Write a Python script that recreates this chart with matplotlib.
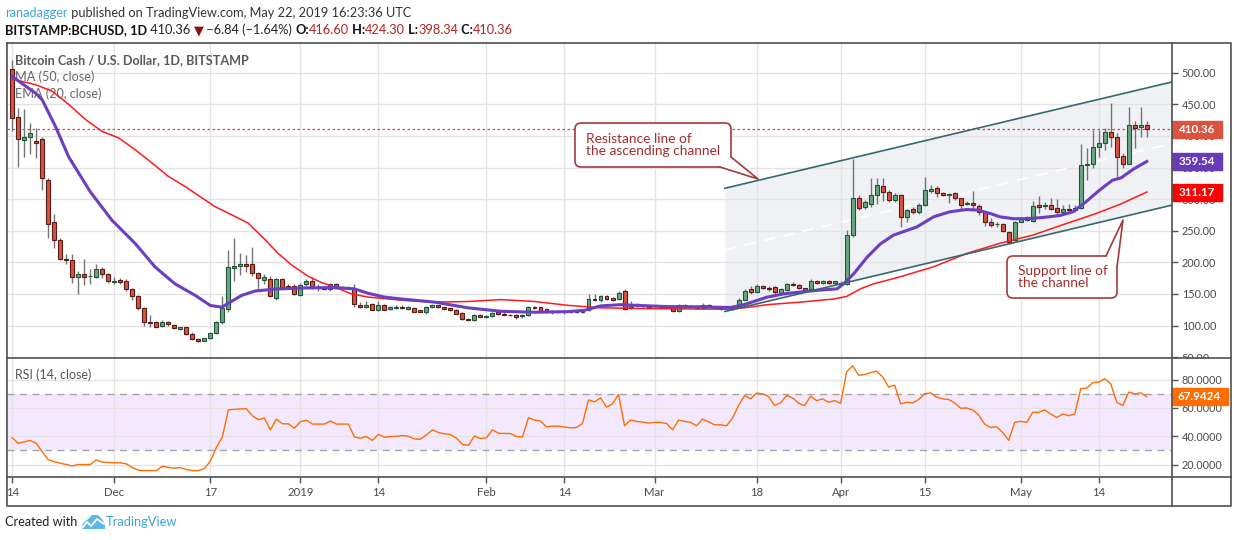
import matplotlib
matplotlib.use("Agg")
import matplotlib.pyplot as plt
import matplotlib.transforms as mtransforms
from matplotlib.patches import Rectangle, FancyBboxPatch, Polygon
from matplotlib.lines import Line2D

# daily candles, day 0 = 14 Nov 2018 ... day 189 = 22 May 2019
opens = [506, 430, 393, 398, 392, 395, 331, 264, 235, 206,
         204, 177, 181, 178, 177, 190, 181, 169, 172, 171,
         158, 146, 128, 106, 105, 99, 105, 101, 95, 97,
         87, 79, 76, 80, 88, 105, 126, 191, 194, 197,
         197, 183, 172, 174, 143, 174, 163, 162, 148, 165,
         171, 160, 160, 158, 166, 160, 160, 160, 133, 129,
         134, 125, 133, 126, 127, 130, 126, 128, 124, 122,
         129, 132, 129, 127, 124, 120, 111, 108, 117, 114,
         115, 121, 118, 117, 117, 115, 116, 129, 129, 126,
         122, 122, 122, 122, 121, 121, 124, 142, 140, 147,
         143, 142, 154, 129, 134, 132, 132, 131, 131, 130,
         129, 123, 133, 131, 131, 127, 133, 130, 128, 128,
         127, 130, 141, 157, 153, 162, 160, 161, 152, 156,
         166, 164, 159, 158, 170, 168, 171, 168, 168, 166,
         243, 301, 288, 293, 306, 320, 312, 298, 306, 271,
         284, 279, 291, 313, 317, 310, 307, 309, 301, 292,
         294, 289, 280, 263, 260, 260, 248, 235, 264, 267,
         265, 290, 289, 291, 286, 279, 285, 282, 286, 354,
         356, 383, 389, 406, 399, 368, 356, 418, 414, 416.6]
highs = [520, 444, 442, 420, 412, 398, 333, 277, 238, 213,
         213, 187, 206, 190, 198, 193, 183, 176, 175, 173,
         160, 148, 130, 116, 107, 108, 107, 103, 98, 98,
         89, 81, 81, 90, 107, 147, 220, 238, 215, 212,
         225, 185, 182, 178, 175, 175, 165, 166, 167, 174,
         177, 165, 163, 168, 168, 162, 163, 165, 137, 138,
         136, 138, 134, 131, 132, 132, 131, 129, 125, 131,
         134, 133, 130, 128, 126, 121, 112, 119, 119, 116,
         122, 122, 121, 118, 118, 118, 131, 131, 130, 127,
         124, 124, 123, 123, 125, 126, 150, 150, 149, 149,
         145, 155, 158, 138, 135, 134, 133, 133, 133, 131,
         130, 134, 134, 132, 132, 135, 134, 131, 129, 129,
         133, 143, 157, 162, 166, 164, 162, 162, 159, 168,
         169, 165, 160, 174, 172, 172, 172, 171, 170, 251,
         363, 306, 298, 333, 333, 333, 314, 309, 308, 284,
         287, 294, 335, 322, 320, 312, 310, 311, 302, 297,
         313, 292, 281, 270, 264, 262, 249, 266, 272, 274,
         297, 305, 295, 301, 300, 290, 292, 290, 387, 381,
         409, 409, 412, 452, 405, 373, 445, 424, 446, 424.3]
lows = [407, 351, 367, 372, 365, 314, 238, 222, 203, 198,
        167, 150, 164, 165, 175, 175, 168, 165, 166, 155,
        140, 125, 100, 97, 96, 97, 100, 94, 93, 85,
        77, 74, 75, 79, 86, 103, 122, 171, 180, 185,
        178, 158, 165, 145, 140, 158, 158, 148, 147, 162,
        158, 155, 156, 155, 158, 157, 157, 130, 128, 127,
        124, 123, 124, 124, 126, 126, 124, 121, 121, 118,
        128, 128, 125, 123, 118, 109, 107, 107, 113, 112,
        114, 117, 116, 115, 111, 112, 115, 126, 121, 120,
        119, 120, 119, 120, 120, 120, 123, 138, 137, 140,
        139, 141, 124, 126, 130, 130, 129, 129, 128, 128,
        122, 122, 129, 129, 126, 126, 130, 127, 125, 126,
        125, 129, 140, 150, 152, 157, 155, 150, 151, 155,
        162, 158, 153, 156, 166, 166, 166, 166, 164, 164,
        240, 283, 284, 288, 293, 297, 296, 296, 256, 264,
        276, 276, 289, 309, 304, 305, 294, 298, 282, 290,
        284, 275, 257, 256, 256, 248, 229, 234, 263, 265,
        264, 278, 285, 282, 275, 277, 281, 280, 285, 331,
        350, 367, 378, 383, 335, 350, 355, 381, 398, 398.34]
closes = [428, 395, 398, 404, 388, 333, 261, 235, 206, 203,
          176, 181, 177, 178, 190, 181, 171, 171, 169, 157,
          146, 128, 105, 104, 98, 106, 103, 96, 97, 87,
          79, 76, 80, 88, 105, 128, 193, 194, 197, 194,
          183, 175, 176, 147, 174, 160, 160, 150, 164, 170,
          160, 161, 158, 166, 160, 160, 159, 134, 129, 133,
          125, 133, 125, 129, 130, 127, 130, 122, 122, 129,
          132, 129, 126, 125, 119, 110, 108, 117, 114, 115,
          120, 118, 117, 116, 113, 116, 129, 127, 122, 121,
          122, 122, 121, 121, 124, 124, 142, 140, 147, 142,
          141, 152, 126, 133, 132, 131, 130, 131, 129, 130,
          123, 133, 130, 130, 127, 133, 131, 128, 126, 128,
          131, 141, 155, 153, 162, 159, 157, 153, 157, 166,
          164, 160, 155, 171, 168, 170, 168, 170, 166, 243,
          301, 286, 296, 307, 322, 312, 298, 306, 272, 282,
          279, 291, 314, 316, 309, 307, 307, 301, 290, 294,
          290, 280, 264, 259, 260, 250, 232, 264, 268, 271,
          289, 288, 291, 284, 279, 285, 282, 286, 354, 356,
          383, 389, 406, 398, 366, 356, 418, 413, 416.6, 410.36]
days = list(range(len(closes)))

# moving averages (day, value)
purple_days = [0, 3.9, 5, 7.2, 9.4, 13, 16.6, 20.5, 23.8, 27.1, 30.5, 33, 34.9, 36.6, 38.2,
               40.4, 43.8, 48.2, 51.2, 53.7, 57, 59.3, 62, 64.8, 70.4, 75.9, 81.4, 87, 92.5, 95.3,
               98, 101.4, 103.6, 109, 114.7, 119.7, 121.9, 125.8, 128.5, 131.3, 134, 137.4, 138.5,
               140.2, 142.4, 144.6, 146.8, 150.7, 153.5, 156.2, 159, 160.9, 163, 164.5, 166.8, 169,
               171.7, 174.5, 176.7, 178.9, 181.1, 183.3, 184.7, 186.7, 189]
purple_vals = [494, 467.5, 457, 415, 367, 311.6, 266.7, 229.6, 192.6, 166, 147.6, 131.7, 129, 138.6, 147.6,
               154.5, 157.7, 159.3, 159.8, 160, 158, 151, 145, 142, 137, 128, 122.5, 121, 122, 124,
               131, 133, 132, 130, 129.5, 128.5, 133, 145, 150, 153, 155.6, 158, 166,
               182, 208, 229, 243, 256, 272, 280, 283.5, 282.5, 277, 272, 269, 269,
               271, 274, 280, 296, 314, 330, 333.5, 347, 359.54]
red_days = [0, 3.9, 6.6, 9.4, 12.2, 15, 17.7, 20.5, 23.3, 26, 28.8, 31.6, 33.8, 36.6, 39.3,
            42.1, 44.3, 46.5, 49.3, 51.5, 53.7, 56.5, 59.3, 64.8, 70.4, 75.9, 81.4, 87, 92.5, 98,
            103.6, 109, 114.7, 120, 122.8, 125.8, 131.3, 136.9, 139, 141.3, 143.5, 147.9, 153.5,
            159, 164.5, 170, 175.5, 180.5, 184.6, 189]
red_vals = [490, 481, 471, 450, 426, 407, 397, 378, 357, 336, 320, 302, 288, 275, 262,
            236, 214, 196, 178, 168, 161, 150, 145, 140, 137, 138, 141, 138, 132, 128,
            127, 126.5, 126, 126, 129, 133, 137, 142, 146, 158, 166, 177, 193,
            214, 230, 243, 261, 277, 292, 311.17]

rsi = [39, 35, 36, 37, 35, 29, 23.5, 22, 21, 20,
       19, 20, 20, 20, 23.3, 21.7, 21.5, 21.3, 21.2, 20.5,
       18, 16, 15.7, 15.7, 15.7, 18.8, 18, 17.4, 17.9, 16.5,
       15.7, 15.7, 17.1, 22.4, 32, 39.5, 58.6, 59, 59.3, 59.5,
       54.5, 51.7, 52.9, 44.5, 52.1, 48.8, 48.8, 45.7, 50.2, 51.4,
       48.6, 48.6, 48.6, 50.7, 48.6, 48.6, 48.6, 39.5, 38.6, 39.8,
       37.1, 41.4, 39.3, 39.7, 40, 40.5, 40, 38.1, 37.9, 41,
       44.5, 42.6, 41.8, 41.2, 38.6, 34.3, 33.6, 40.2, 38.3, 39,
       44.5, 42.1, 42, 41.9, 39.8, 39.5, 53.1, 51.4, 50.7, 46.7,
       47.1, 47.1, 46.5, 46, 46.2, 49, 65.7, 64.3, 67.1, 60.5,
       62.9, 69.5, 47.4, 51.4, 50.5, 50, 49.3, 49.8, 49.8, 49,
       44.5, 51.4, 50.5, 49.8, 47.4, 52.1, 50.2, 48.1, 48.1, 47.4,
       52.9, 61.7, 68.8, 66.4, 70.5, 70, 68.1, 61.7, 63.6, 68.8,
       67.1, 63.3, 61.7, 68.3, 65.2, 66.4, 64, 65.2, 63.3, 85.5,
       89.8, 83.1, 83.6, 85, 86, 81.9, 74.8, 76, 62.9, 64,
       63.6, 66, 70, 70.7, 67.6, 66.4, 66, 63.6, 59.8, 60,
       58.6, 55, 48.6, 46.2, 46.7, 42.6, 37.1, 49.8, 50.5, 49.8,
       56.9, 56.9, 58.6, 55.7, 53.3, 55.7, 54.5, 55.7, 73.6, 74,
       77.9, 78.3, 80.7, 77.1, 64, 61.7, 71.2, 70, 70.7, 67.94]

# ascending channel (day, price) at its two ends
chan_days = [118.7, 193.5]
resist_vals = [317.1, 486.1]
support_vals = [122.2, 291.2]

last_price = 410.36
purple_last = 359.54
red_last = 311.17
rsi_last = 67.9424

tick_days = [0, 17, 33, 48, 61, 79, 92, 107, 124, 138, 152, 168, 181]
tick_labels = ['14', 'Dec', '17', '2019', '14', 'Feb', '14', 'Mar', '18', 'Apr', '15', 'May', '14']
price_ticks = [50, 100, 150, 200, 250, 300, 350, 400, 450, 500]
rsi_ticks = [20, 40, 60, 80]

W, H = 1234, 540
plt.rcParams['font.family'] = ['Lato', 'DejaVu Sans']
fig = plt.figure(figsize=(W / 100, H / 100), dpi=100)
fig.patch.set_facecolor('white')
pix = mtransforms.Affine2D().scale(1 / 100, -1 / 100).translate(0, H / 100) + fig.dpi_scale_trans


def box(l, t, r, b):
    return [l / W, 1 - b / H, (r - l) / W, (b - t) / H]


ax = fig.add_axes(box(7, 42, 1172, 358))
rx = fig.add_axes(box(7, 358, 1172, 477), sharex=ax)

grid_col = '#e3e3e3'
txt_col = '#4a4a4a'

# channel fill + lines
mid_vals = [(a + b) / 2 for a, b in zip(resist_vals, support_vals)]
ax.fill_between(chan_days, support_vals, resist_vals, color='#eff1f4', lw=0, zorder=0.3)
ax.plot(chan_days, mid_vals, color='white', lw=1.2, dashes=(7, 5), zorder=0.7)
ax.plot(chan_days, resist_vals, color='#37676f', lw=1.2, zorder=6)
ax.plot(chan_days, support_vals, color='#37676f', lw=1.2, zorder=6)

ax.axhline(last_price, color='#e0453a', lw=0.9, ls=(0, (2, 2)), zorder=2)

# candles
up = [c >= o for o, c in zip(opens, closes)]
bottoms = [min(o, c) for o, c in zip(opens, closes)]
heights = [max(abs(c - o), 0.8) for o, c in zip(opens, closes)]
ax.vlines(days, lows, highs, color='#737375', lw=1, zorder=3)
ax.bar(days, heights, bottom=bottoms, width=0.66,
       color=['#6ba583' if u else '#d75442' for u in up],
       edgecolor=['#225437' if u else '#5b1a13' for u in up], lw=0.8, zorder=4)

ax.plot(red_days, red_vals, color='#ff1a1a', lw=1.1, zorder=5)
ax.plot(purple_days, purple_vals, color='#6a3fc1', lw=2.2, zorder=5)

ax.set_xlim(-0.87, 193.2)
ax.set_ylim(48.6, 548.6)
ax.set_axisbelow(True)
ax.grid(color=grid_col, lw=1)
ax.yaxis.tick_right()
ax.set_yticks(price_ticks, labels=['%.2f' % v for v in price_ticks])
ax.tick_params(axis='y', length=4, width=1, color='#555555', labelcolor=txt_col, labelsize=7.8, pad=3)
ax.tick_params(axis='x', length=0, labelbottom=False)
for s in ax.spines.values():
    s.set_visible(False)

# RSI pane
rx.axhspan(30, 70, color='#f4e8fe', lw=0, zorder=0.2)
rx.axhline(70, color='#a5a5a5', lw=1, dashes=(5, 4), zorder=1)
rx.axhline(30, color='#a5a5a5', lw=1, dashes=(5, 4), zorder=1)
rx.plot(days, rsi, color='#ff6d00', lw=1.0, zorder=4)
rx.set_ylim(11.2, 95.3)
rx.set_axisbelow(True)
rx.grid(color=grid_col, lw=1)
rx.yaxis.tick_right()
rx.set_yticks(rsi_ticks, labels=['%.4f' % v for v in rsi_ticks])
rx.set_xticks(tick_days, labels=tick_labels)
rx.tick_params(axis='y', length=4, width=1, color='#555555', labelcolor=txt_col, labelsize=7.8, pad=3)
rx.tick_params(axis='x', length=4, width=1, color='#555555', labelcolor=txt_col, labelsize=8.2, pad=3)
for s in rx.spines.values():
    s.set_visible(False)

# value tags on the price scale
bt = mtransforms.blended_transform_factory(ax.transAxes, ax.transData)
for v, col, w in [(last_price, '#d9533f', 50), (purple_last, '#673ab7', 50), (red_last, '#ff0000', 50)]:
    ax.add_patch(Rectangle((1.0, v - 13.4), w / 1165, 26.8, transform=bt, color=col, clip_on=False, zorder=10))
    ax.text(1.0 + 7 / 1165, v, '%.2f' % v, transform=bt, ha='left', va='center', color='white',
            fontsize=8.4, fontweight='bold', zorder=11, clip_on=False)
rt = mtransforms.blended_transform_factory(rx.transAxes, rx.transData)
rx.add_patch(Rectangle((1.0, rsi_last - 6), 56 / 1165, 12, transform=rt, color='#ff6d00', clip_on=False, zorder=10))
rx.text(1.0 + 6 / 1165, rsi_last, '%.4f' % rsi_last, transform=rt, ha='left', va='center', color='white',
        fontsize=8.4, fontweight='bold', zorder=11, clip_on=False)

# pane legends
ax.text(15, 60, 'Bitcoin Cash / U.S. Dollar, 1D, BITSTAMP', transform=pix, color='#5a5a5a',
        fontsize=9.1, fontweight='bold', va='center', zorder=1)
ax.text(15, 77, 'MA (50, close)', transform=pix, color='#666666', fontsize=9.1, va='center', zorder=1)
ax.text(15, 94, 'EMA (20, close)', transform=pix, color='#666666', fontsize=9.1, va='center', zorder=1)
rx.text(15, 375, 'RSI (14, close)', transform=pix, color='#555555', fontsize=9.0, va='center', zorder=1)

# hide lower half of the cut 50.00 label
fig.add_artist(Rectangle((1173, 358.5), 56, 12, transform=pix, color='white', zorder=5))

# frame
frame_col = '#505050'
for xs, ys in [([6.5, 1230.5, 1230.5, 6.5, 6.5], [42.5, 42.5, 505.5, 505.5, 42.5]),
               ([6.5, 1230.5], [358, 358]), ([6.5, 1230.5], [477, 477]), ([1172, 1172], [42.5, 505.5])]:
    fig.add_artist(Line2D(xs, ys, transform=pix, color=frame_col, lw=1.2, zorder=6))

# callouts
call_col = '#a53a3a'


def callout(l, t, r, b, tail, lines):
    fig.add_artist(FancyBboxPatch((l, t), r - l, b - t, boxstyle='round,pad=0,rounding_size=6',
                                  transform=pix, fc='white', ec=call_col, lw=1.2, zorder=7))
    fig.add_artist(Polygon(tail, closed=True, transform=pix, fc='white', ec='none', zorder=8))
    fig.add_artist(Line2D([tail[0][0], tail[1][0], tail[2][0]], [tail[0][1], tail[1][1], tail[2][1]],
                          transform=pix, color=call_col, lw=1.2, zorder=9))
    fig.text(l + 11, (t + b) / 2, lines, transform=pix, color='#a32d2d', fontsize=9.9,
             va='center', ha='left', linespacing=0.95, zorder=9)


callout(575, 123, 731, 167, [(720, 167), (758, 179), (731, 157), (722, 160)],
        'Resistance line of\nthe ascending channel')
callout(1007, 256, 1117, 298, [(1106, 256), (1123, 220), (1117, 267), (1108, 262)],
        'Support line of\nthe channel')

# header lines
renderer = fig.canvas.get_renderer()


def write(x, y, parts, size):
    for s, col, wt in parts:
        t = fig.text(x, y, s, transform=pix, color=col, fontsize=size, fontweight=wt, va='center', ha='left')
        x = t.get_window_extent(renderer).x1


write(5, 13, [('ranadagger', '#3ba4dc', 'normal'),
              (' published on TradingView.com, May 22, 2019 16:23:36 UTC', '#333333', 'normal')], 9.2)
dark_red = '#b22222'
write(5, 30, [('BITSTAMP:BCHUSD, 1D', '#111111', 'bold'), (' 410.36 ', '#222222', 'normal'),
              ('\u25bc', '#8b1010', 'normal'), (' \u22126.84 (\u22121.64%) ', '#222222', 'normal'),
              ('O:', '#111111', 'bold'), ('416.60', dark_red, 'normal'),
              (' H:', '#111111', 'bold'), ('424.30', dark_red, 'normal'),
              (' L:', '#111111', 'bold'), ('398.34', dark_red, 'normal'),
              (' C:', '#111111', 'bold'), ('410.36', dark_red, 'normal')], 9.2)

# footer with logo
fig.add_artist(Polygon([(81, 529), (83, 523), (88, 519), (92, 515), (98, 515), (102, 519), (105, 524), (105, 529)],
                       closed=True, transform=pix, fc='#5cb8e6', ec='none', zorder=5))
fig.add_artist(Line2D([82, 87, 91, 97, 104], [528, 522, 526, 519, 524], transform=pix, color='white', lw=1.3, zorder=6))
write(5, 522, [('Created with', '#222222', 'normal')], 9.2)
write(106, 522, [('TradingView', '#3ba4dc', 'normal')], 9.3)

fig.savefig('out.png', dpi=100)
